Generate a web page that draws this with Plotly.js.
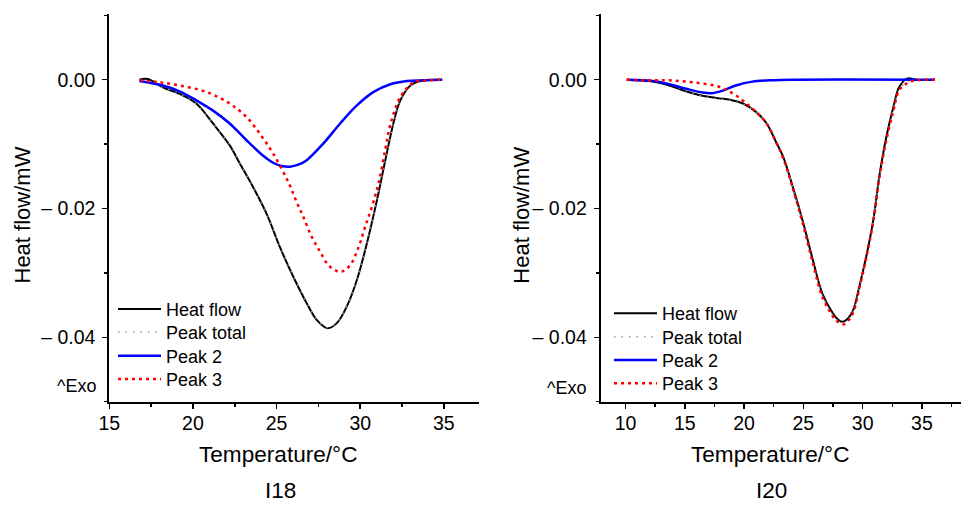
<!DOCTYPE html>
<html>
<head>
<meta charset="utf-8">
<script src="https://cdn.plot.ly/plotly-3.0.1.min.js"></script>
<style>html,body{margin:0;padding:0;background:#fff;}#chart{width:962px;height:505px;}</style>
</head>
<body>
<div id="chart"></div>
<script>
// ---------- I18 (left panel) ----------
const i18HeatX = [16.8, 17.3, 18.2, 19.2, 20.2, 21.2, 22.2, 22.8, 23.6, 24.4, 25.2, 26.0, 26.8, 27.4, 28.05, 28.6, 29.2, 29.8, 30.4, 31.0, 31.5, 32.0, 32.4, 33.0, 33.6, 34.9];
const i18HeatY = [0, 0.0001, -0.0012, -0.0022, -0.0037, -0.0068, -0.0102, -0.0130, -0.0167, -0.0208, -0.0260, -0.0306, -0.0347, -0.0373, -0.0386, -0.0378, -0.0352, -0.0311, -0.0254, -0.0187, -0.0125, -0.0066, -0.0032, -0.0009, -0.0002, 0];
const i18TotalX = [16.8, 17.3, 18.2, 19.2, 20.2, 21.2, 22.2, 22.8, 23.6, 24.4, 25.2, 26.0, 26.8, 27.4, 28.05, 28.6, 29.2, 29.8, 30.4, 31.0, 31.5, 32.0, 32.4, 33.0, 33.6, 34.9];
const i18TotalY = [-0.0003, -0.0004, -0.0012, -0.0022, -0.0038, -0.0068, -0.0101, -0.0129, -0.0167, -0.0208, -0.0259, -0.0305, -0.0346, -0.0372, -0.0385, -0.0377, -0.0351, -0.0310, -0.0253, -0.0186, -0.0124, -0.0067, -0.0031, -0.0009, -0.0002, 0];
const i18P2X = [16.8, 18.2, 19.2, 20.2, 21.2, 22.2, 23.2, 24.2, 24.8, 25.3, 25.8, 26.3, 26.8, 27.8, 28.8, 29.8, 30.8, 31.8, 32.8, 33.8, 34.9];
const i18P2Y = [-0.0002, -0.0009, -0.0018, -0.0032, -0.0048, -0.0068, -0.0094, -0.0118, -0.0129, -0.0134, -0.0135, -0.0132, -0.0125, -0.0099, -0.0068, -0.0040, -0.0019, -0.0007, -0.0002, -0.0001, 0];
const i18P3X = [16.8, 18.0, 19.2, 20.8, 22.2, 23.2, 24.0, 24.8, 25.7, 26.2, 26.6, 27.1, 27.6, 28.1, 28.6, 28.9, 29.4, 29.9, 30.3, 30.7, 31.1, 31.5, 31.8, 32.4, 33.2, 34.0, 34.9];
const i18P3Y = [-0.0001, -0.0004, -0.0009, -0.0019, -0.0037, -0.0058, -0.0084, -0.0115, -0.0159, -0.0190, -0.0213, -0.0244, -0.0267, -0.0288, -0.0297, -0.0298, -0.0288, -0.0260, -0.0228, -0.0197, -0.0160, -0.0108, -0.0070, -0.0027, -0.0004, -0.0001, 0];

// ---------- I20 (right panel) ----------
const i20HeatX = [10.1, 12.3, 13.7, 15.1, 16.5, 17.9, 18.8, 19.9, 21.0, 21.9, 22.7, 23.3, 24.1, 25.0, 25.8, 26.6, 27.5, 27.9, 28.3, 28.8, 29.2, 29.7, 30.3, 30.9, 31.4, 32.0, 32.6, 33.1, 33.8, 34.5, 36.1];
const i20HeatY = [0, -0.0003, -0.0009, -0.0018, -0.0025, -0.0029, -0.0031, -0.0037, -0.0050, -0.0068, -0.0097, -0.0120, -0.0166, -0.0223, -0.0280, -0.0332, -0.0363, -0.0372, -0.0376, -0.0370, -0.0358, -0.0323, -0.0275, -0.0218, -0.0151, -0.0089, -0.0042, -0.0011, 0.0002, 0, 0];
const i20TotalX = [10.1, 12.3, 13.7, 15.1, 16.5, 17.9, 18.8, 19.9, 21.0, 21.9, 22.7, 23.3, 24.1, 25.0, 25.8, 26.6, 27.5, 27.9, 28.3, 28.8, 29.2, 29.7, 30.3, 30.9, 31.4, 32.0, 32.6, 33.1, 33.8, 34.5, 36.1];
const i20TotalY = [0, -0.0003, -0.0008, -0.0017, -0.0026, -0.0030, -0.0032, -0.0038, -0.0050, -0.0068, -0.0098, -0.0121, -0.0167, -0.0225, -0.0283, -0.0335, -0.0366, -0.0374, -0.0378, -0.0372, -0.0360, -0.0325, -0.0276, -0.0219, -0.0153, -0.0092, -0.0046, -0.0015, -0.0003, -0.0001, 0];
const i20P2X = [10.1, 12.3, 13.7, 15.1, 16.5, 17.3, 18.2, 19.3, 20.7, 22.2, 24.0, 36.1];
const i20P2Y = [0, -0.0002, -0.0007, -0.0014, -0.0020, -0.0021, -0.0017, -0.0009, -0.0003, -0.0001, 0, 0];
const i20P3X = [10.1, 12.3, 13.7, 15.1, 16.5, 17.9, 19.1, 20.2, 21.0, 21.9, 22.7, 23.3, 24.1, 25.0, 25.8, 26.6, 27.5, 27.9, 28.4, 28.8, 29.2, 29.7, 30.3, 30.9, 31.4, 32.0, 32.6, 33.1, 33.9, 34.5, 36.1];
const i20P3Y = [0, -0.0001, -0.0001, -0.0003, -0.0006, -0.0011, -0.0022, -0.0037, -0.0050, -0.0068, -0.0097, -0.0122, -0.0168, -0.0227, -0.0285, -0.0337, -0.0368, -0.0376, -0.0380, -0.0374, -0.0362, -0.0326, -0.0277, -0.0220, -0.0154, -0.0094, -0.0048, -0.0016, -0.0004, -0.0001, 0];

// ---------- labels ----------
const seriesNames = ['Heat flow', 'Peak total', 'Peak 2', 'Peak 3'];
const yTickVals = [0, -0.02, -0.04];
const yTickText = ['0.00', '\u2013 0.02', '\u2013 0.04'];
const panelLabels = ['I18', 'I20'];
const xTitle = 'Temperature/\u00b0C';
const yTitle = 'Heat flow/mW';

const FONT = 'Liberation Sans, Arial, Helvetica, sans-serif';
const styles = [
  {color: '#000000', width: 2, dash: 'solid'},
  {color: '#9a9a9a', width: 1.5, dash: '1.5px,6px'},
  {color: '#0000ff', width: 2.5, dash: 'solid'},
  {color: '#ff0000', width: 2.5, dash: '3px,4px'}
];

function mk(x, y, i, xa, ya, leg) {
  return {
    type: 'scatter', mode: 'lines', x: x, y: y, name: seriesNames[i],
    xaxis: xa, yaxis: ya, legend: leg,
    line: Object.assign({shape: 'spline', smoothing: 1}, styles[i]),
    hoverinfo: 'x+y+name'
  };
}

const data = [
  mk(i18HeatX, i18HeatY, 0, 'x', 'y', 'legend'),
  mk(i18TotalX, i18TotalY, 1, 'x', 'y', 'legend2'),
  mk(i18P2X, i18P2Y, 2, 'x', 'y', 'legend3'),
  mk(i18P3X, i18P3Y, 3, 'x', 'y', 'legend4'),
  mk(i20HeatX, i20HeatY, 0, 'x2', 'y2', 'legend5'),
  mk(i20TotalX, i20TotalY, 1, 'x2', 'y2', 'legend6'),
  mk(i20P2X, i20P2Y, 2, 'x2', 'y2', 'legend7'),
  mk(i20P3X, i20P3Y, 3, 'x2', 'y2', 'legend8')
];

const W = 962, H = 505;
const px = v => v / W;
const py = v => 1 - v / H;

function xax(dom, range, anchor) {
  return {
    domain: dom, range: range, anchor: anchor,
    showline: true, linecolor: '#000', linewidth: 2,
    ticks: 'outside', ticklen: 5, tickwidth: 1.5, tickcolor: '#000',
    tickmode: 'linear', tick0: 0, dtick: 5,
    minor: {ticks: 'outside', ticklen: 3, tickwidth: 1.5, tickcolor: '#000', tickmode: 'linear', tick0: 0, dtick: 2.5, showgrid: false},
    showgrid: false, zeroline: false,
    tickfont: {family: FONT, size: 19.5, color: '#000'},
    ticklabelstandoff: -2
  };
}
function yax(range, anchor) {
  return {
    domain: [py(401.7), py(14)], range: range, anchor: anchor,
    showline: true, linecolor: '#000', linewidth: 2,
    ticks: 'outside', ticklen: 5, tickwidth: 1.5, tickcolor: '#000',
    tickmode: 'array', tickvals: yTickVals, ticktext: yTickText,
    minor: {ticks: 'outside', ticklen: 3, tickwidth: 1.5, tickcolor: '#000', tickmode: 'linear', tick0: 0, dtick: 0.01, showgrid: false},
    showgrid: false, zeroline: false,
    tickfont: {family: FONT, size: 19.5, color: '#000'},
    ticklabelstandoff: 3
  };
}

function ann(x, y, text, size, extra) {
  return Object.assign({xref: 'paper', yref: 'paper', x: px(x), y: py(y), text: text, showarrow: false,
    font: {family: FONT, size: size, color: '#000'}, xanchor: 'center', yanchor: 'middle'}, extra || {});
}

const LEGFONT = 18;
function leg(x, yc) {
  return {x: px(x), y: py(yc - 18.2), xanchor: 'left', yanchor: 'top', bgcolor: 'rgba(0,0,0,0)',
    font: {family: FONT, size: LEGFONT, color: '#000'}, itemwidth: 43};
}

const layout = {
  width: W, height: H,
  margin: {l: 0, r: 0, t: 0, b: 0},
  paper_bgcolor: '#fff', plot_bgcolor: '#fff',
  font: {family: FONT, size: 18, color: '#000'},
  xaxis: xax([px(109.3), px(479)], [15, 37.1], 'y'),
  yaxis: yax([-0.05, 0.0102], 'x'),
  xaxis2: xax([px(600.7), px(961)], [7.9, 38.3], 'y2'),
  yaxis2: yax([-0.05, 0.0102], 'x2'),
  showlegend: true,
  legend: leg(113, 309),
  legend2: leg(113, 332.3),
  legend3: leg(113, 355.7),
  legend4: leg(113, 379),
  legend5: leg(609, 313.3),
  legend6: leg(609, 336.7),
  legend7: leg(609, 360),
  legend8: leg(609, 383.3),
  annotations: [
    ann(277.5, 454, xTitle, 22.6),
    ann(770, 454, xTitle, 22.6),
    ann(280, 504, panelLabels[0], 22.5, {yanchor: 'bottom', borderpad: 0}),
    ann(771.7, 504, panelLabels[1], 22.5, {yanchor: 'bottom', borderpad: 0}),
    ann(22.5, 215, yTitle, 22, {textangle: -90}),
    ann(521.7, 215, yTitle, 22, {textangle: -90}),
    ann(97.7, 386, '^Exo', 18, {xanchor: 'right'}),
    ann(588.3, 388, '^Exo', 18, {xanchor: 'right'})
  ]
};

Plotly.newPlot('chart', data, layout, {displayModeBar: false, staticPlot: true});
</script>
</body>
</html>
